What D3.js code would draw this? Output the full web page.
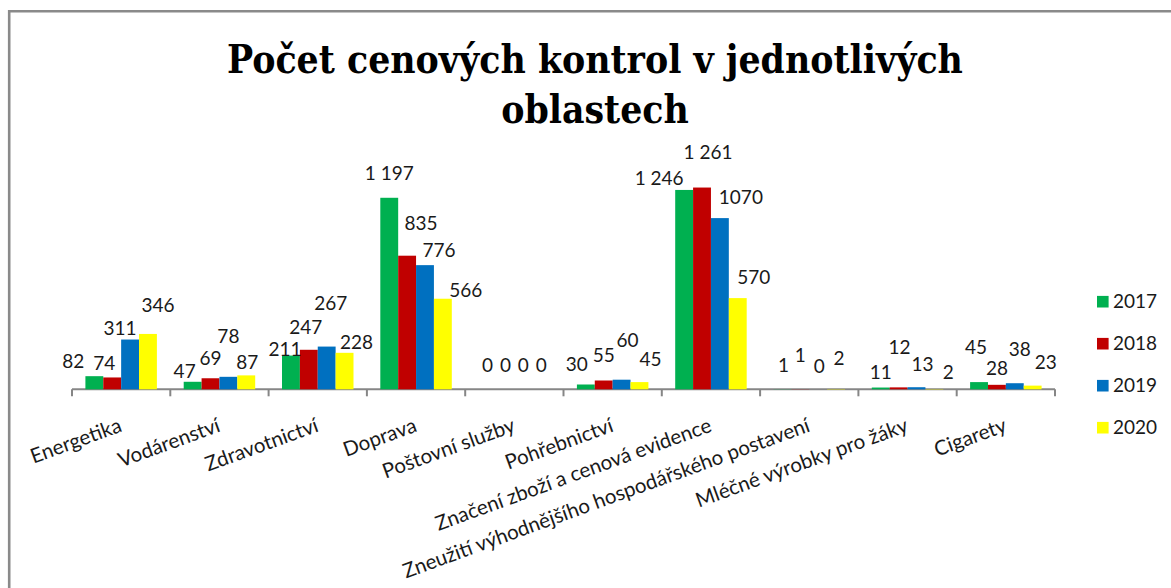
<!DOCTYPE html>
<html>
<head>
<meta charset="utf-8">
<script src="https://cdn.jsdelivr.net/npm/d3@7"></script>
<style>
  body { margin: 0; background: #fff; }
  svg { display: block; }
</style>
</head>
<body>
<svg id="chart"></svg>
<script>
// kategorie a hodnoty
const categories = ["Energetika", "Vodárenství", "Zdravotnictví", "Doprava", "Poštovní služby",
  "Pohřebnictví", "Značení zboží a cenová evidence", "Zneužití výhodnějšího hospodářského postavení",
  "Mléčné výrobky pro žáky", "Cigarety"];
const years = ["2017", "2018", "2019", "2020"];
const values2017 = [82, 47, 211, 1197, 0, 30, 1246, 1, 11, 45];
const values2018 = [74, 69, 247, 835, 0, 55, 1261, 1, 12, 28];
const values2019 = [311, 78, 267, 776, 0, 60, 1070, 0, 13, 38];
const values2020 = [346, 87, 228, 566, 0, 45, 570, 2, 2, 23];
const seriesValues = [values2017, values2018, values2019, values2020];
const colors = ["#00b050", "#c00000", "#0070c0", "#ffff00"];

// popisky posunuté ručně jako v originále (dx, dy od vrcholu sloupce)
const labelDx = [
  [-21, -8, -6, 0, 0, -9, -25, 1, 0, -3],
  [-8, 0, -3, 14, 0, 0, 6, 0, 1, 0],
  [-10, 0, 4, 14, 0, 6, 21, 1, 6, 5],
  [10, 1, 12, 23, 0, 11, 16, 3, 14, 13]
];
const labelDy = [
  [-15, -10, -6, -24, -24, -20, -12, -24, -15, -35],
  [-14, -20, -22, -32, -24, -25, -35, -34, -40, -16],
  [-11, -40, -43, -15, -24, -39, -21, -23, -23, -34],
  [-29, -13, -10, -8, -24, -23, -21, -31, -17, -23]
];
// 1070 je v originále bez mezery
const ungrouped = [[2, 6]];

const width = 1171;
const height = 588;
const svg = d3.select("#chart").attr("width", width).attr("height", height);

svg.append("rect").attr("width", width).attr("height", height).attr("fill", "#fff");

// rámeček (jen horní a levá hrana je vidět)
svg.append("path")
  .attr("d", `M9.2,${height} V11.3 H${width}`)
  .attr("fill", "none")
  .attr("stroke", "#8a8a8a")
  .attr("stroke-width", 2.6);

// titulek
const title = svg.append("text")
  .attr("x", 595)
  .attr("text-anchor", "middle")
  .style("font-family", "'DejaVu Serif Condensed', 'DejaVu Serif', serif")
  .style("font-stretch", "condensed")
  .style("font-weight", "bold")
  .style("font-size", "38.7px")
  .attr("fill", "#000");
title.append("tspan").attr("x", 595).attr("y", 73).text("Počet cenových kontrol v jednotlivých");
title.append("tspan").attr("x", 595).attr("y", 123).text("oblastech");

const fontFamily = "Lato, 'Open Sans', sans-serif";

// škály
const x0 = d3.scaleBand().domain(categories).range([72, 1055]).padding(0);
const x1 = d3.scaleBand().domain(years).range([0, x0.bandwidth()]).paddingInner(0).paddingOuter(0.75);
const y = d3.scaleLinear().domain([0, 1400]).range([389.3, 165.3]);

const fmt = d3.formatLocale({ thousands: " ", grouping: [3], decimal: "," }).format(",");

const data = [];
seriesValues.forEach((vals, s) => {
  vals.forEach((v, c) => {
    const plain = ungrouped.some(p => p[0] === s && p[1] === c);
    data.push({ s, c, year: years[s], cat: categories[c], value: v, text: plain ? String(v) : fmt(v) });
  });
});

// osa x
const axis = svg.append("g").attr("transform", `translate(0,${y(0)})`);
axis.append("line")
  .attr("x1", x0.range()[0]).attr("x2", x0.range()[1])
  .attr("stroke", "#868686").attr("stroke-width", 2);
const tickXs = categories.map(c => x0(c)).concat([x0.range()[1]]);
axis.selectAll(".tick")
  .data(tickXs)
  .join("line")
  .attr("class", "tick")
  .attr("x1", d => d).attr("x2", d => d)
  .attr("y1", 0).attr("y2", 7)
  .attr("stroke", "#868686").attr("stroke-width", 2);

// sloupce
svg.append("g")
  .selectAll("rect")
  .data(data.filter(d => d.value > 0))
  .join("rect")
  .attr("x", d => x0(d.cat) + x1(d.year))
  .attr("y", d => y(d.value))
  .attr("width", x1.bandwidth())
  .attr("height", d => y(0) - y(d.value))
  .attr("fill", d => colors[d.s]);

// popisky kategorií
svg.append("g")
  .selectAll("text")
  .data(categories)
  .join("text")
  .attr("transform", d => `translate(${x0(d) + x0.bandwidth() / 2 + 2},431) rotate(-20)`)
  .attr("text-anchor", "end")
  .style("font-family", fontFamily)
  .style("font-size", "20.5px")
  .attr("fill", "#1a1a1a")
  .text(d => d);

// popisky hodnot
svg.append("g")
  .selectAll("text")
  .data(data)
  .join("text")
  .attr("x", d => x0(d.cat) + x1(d.year) + x1.bandwidth() / 2 + labelDx[d.s][d.c])
  .attr("y", d => y(d.value) + labelDy[d.s][d.c])
  .attr("dy", "0.35em")
  .attr("text-anchor", "middle")
  .style("font-family", fontFamily)
  .style("font-size", "19px")
  .attr("fill", "#1a1a1a")
  .text(d => d.text);

// legenda
const legend = svg.append("g")
  .selectAll("g")
  .data(years)
  .join("g")
  .attr("transform", (d, i) => `translate(1097,${301.7 + i * 42})`);
legend.append("rect")
  .attr("x", 0).attr("y", -5.8)
  .attr("width", 11.6).attr("height", 11.6)
  .attr("fill", (d, i) => colors[i]);
legend.append("text")
  .attr("x", 16)
  .attr("dy", "0.35em")
  .style("font-family", fontFamily)
  .style("font-size", "19px")
  .attr("fill", "#1a1a1a")
  .text(d => d);
</script>
</body>
</html>
